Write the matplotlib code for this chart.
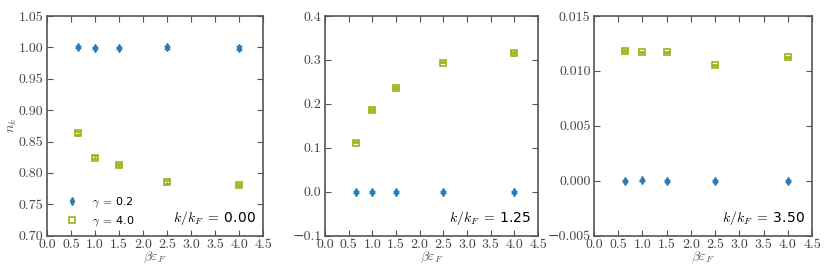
import matplotlib
matplotlib.use("Agg")
import matplotlib.pyplot as plt
from matplotlib.lines import Line2D
import numpy as np

plt.rcParams['font.family'] = ['cmr10', 'DejaVu Serif']
plt.rcParams['mathtext.fontset'] = 'cm'
plt.rcParams['axes.formatter.use_mathtext'] = True
plt.rcParams['axes.unicode_minus'] = True

beta_eF = [0.65, 1.0, 1.5, 2.5, 4.0]

# panel k/kF = 0.00
n0_g02 = [1.000, 0.9993, 0.9995, 1.000, 0.9995]
e0_g02 = [0.0015, 0.0015, 0.0015, 0.0030, 0.0030]
n0_g40 = [0.863, 0.8245, 0.813, 0.785, 0.781]
e0_g40 = [0.002, 0.002, 0.002, 0.002, 0.002]

# panel k/kF = 1.25
n1_g02 = [0.000, 0.000, 0.000, 0.000, 0.000]
e1_g02 = [0.002, 0.002, 0.002, 0.002, 0.002]
n1_g40 = [0.112, 0.1865, 0.237, 0.294, 0.3165]
e1_g40 = [0.002, 0.002, 0.002, 0.002, 0.002]

# panel k/kF = 3.50
n2_g02 = [0.0000, 0.00003, 0.0000, -0.00002, 0.0000]
e2_g02 = [0.00008, 0.00008, 0.00008, 0.00008, 0.00008]
n2_g40 = [0.0118, 0.01168, 0.01168, 0.0105, 0.01123]
e2_g40 = [0.00008, 0.00008, 0.00008, 0.00008, 0.00008]

panel_labels = ['0.00', '1.25', '3.50']
legend_labels = ['0.2', '4.0']

panels = [
    (n0_g02, e0_g02, n0_g40, e0_g40, (0.70, 1.05), np.arange(0.70, 1.051, 0.05), '%.2f'),
    (n1_g02, e1_g02, n1_g40, e1_g40, (-0.1, 0.4), np.arange(-0.1, 0.41, 0.1), '%.1f'),
    (n2_g02, e2_g02, n2_g40, e2_g40, (-0.005, 0.015), np.arange(-0.005, 0.0151, 0.005), '%.3f'),
]

blue = '#2a7ab6'
green = '#96b416'
spine_c = '#555555'

W, H = 830.0, 277.0
boxes = [(47, 216), (325, 213), (594, 218)]
bottom = (H - 235.7) / H
height = (235.7 - 16) / H

fig = plt.figure(figsize=(8.3, 2.77), dpi=100)
for i, (a, ea, b, eb, ylim, yt, fmt) in enumerate(panels):
    ax = fig.add_axes([boxes[i][0] / W, bottom, boxes[i][1] / W, height])
    ax.errorbar(beta_eF, a, yerr=ea, fmt='d', color=blue, ms=3.6, mec=blue,
                capsize=2, elinewidth=1, capthick=1)
    ax.errorbar(beta_eF, b, yerr=eb, fmt='s', color=green, ms=3.8, mfc='none', mew=1.2,
                capsize=2, elinewidth=1, capthick=1)
    ax.set_xlim(0, 4.5)
    ax.set_ylim(*ylim)
    xt = np.arange(0, 4.51, 0.5)
    ax.set_xticks(xt)
    ax.set_xticklabels(['%.1f' % v for v in xt])
    ax.set_yticks(yt)
    ylabels = []
    for v in yt:
        s = fmt % v
        if s.startswith('-'):
            s = '\u2212' + s[1:]
        ylabels.append(s)
    ax.set_yticklabels(ylabels)
    ax.tick_params(direction='in', top=True, right=True, labelsize=10,
                   colors='#555555', labelcolor='#444444', length=4, width=0.8, pad=2.5)
    for sp in ax.spines.values():
        sp.set_color(spine_c)
        sp.set_linewidth(1.2)
    ax.set_xlabel(r'$\beta\varepsilon_F$', color='#555555', fontsize=10, labelpad=-1)
    ax.text(0.968, 0.08, r'$k/k_F\;=\;$' + panel_labels[i], transform=ax.transAxes,
            ha='right', va='center', fontsize=10, family=['DejaVu Sans'])
    if i == 0:
        ax.set_ylabel(r'$n_k$', color='#555555', fontsize=10, labelpad=0)
        handles = [Line2D([], [], ls='none', marker='d', color=blue, ms=3.6),
                   Line2D([], [], ls='none', marker='s', color=green, ms=3.8, mfc='none', mew=1.2)]
        ax.legend(handles, [r'$\gamma\;=\;$' + legend_labels[0], r'$\gamma\;=\;$' + legend_labels[1]],
                  loc='lower left', bbox_to_anchor=(0.085, 0.035), frameon=False, numpoints=1,
                  handletextpad=1.2, handlelength=1.2, borderaxespad=0.0, borderpad=0.0,
                  labelspacing=0.45,
                  prop={'family': ['DejaVu Sans'], 'size': 8})

fig.savefig('out.png', dpi=100)
